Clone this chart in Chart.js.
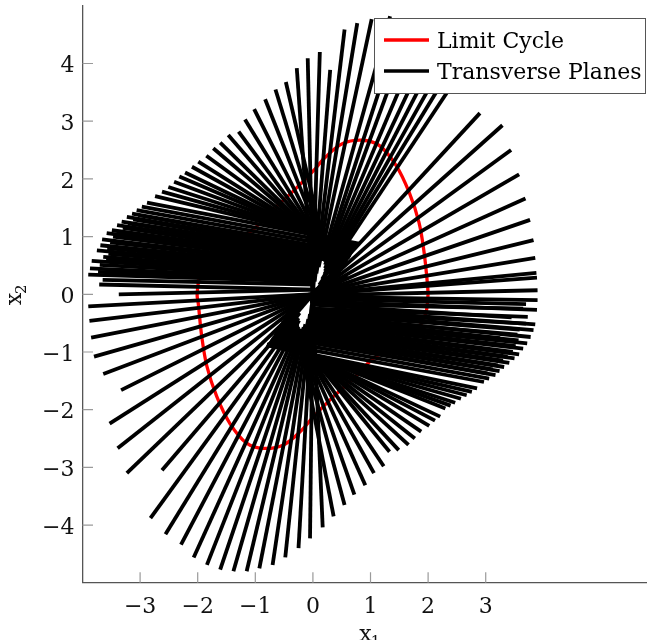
<!DOCTYPE html>
<html>
<head>
<meta charset="utf-8">
<script src="https://cdn.jsdelivr.net/npm/chart.js@4.4.1/dist/chart.umd.min.js"></script>
<style>
  html, body { margin: 0; padding: 0; background: #fff; overflow: hidden; }
  #chart { display: block; }
</style>
</head>
<body>
<canvas id="chart" width="647" height="640"></canvas>
<script>
// limit cycle, clockwise from the right turning point
const cycleX = [2.00, 1.96, 1.82, 1.58, 1.32, 1.05, 0.70, 0.36, 0.01, -0.22, -0.51, -0.86, -1.15, -1.44, -1.67, -1.84, -1.93, -1.99, -2.01,
  -1.96, -1.82, -1.58, -1.32, -1.05, -0.70, -0.36, -0.01, 0.22, 0.51, 0.86, 1.15, 1.44, 1.67, 1.84, 1.93, 1.99, 2.00];
const cycleY = [0.00, -0.33, -0.60, -0.80, -0.96, -1.11, -1.46, -1.77, -2.12, -2.38, -2.61, -2.67, -2.58, -2.24, -1.77, -1.25, -0.73, -0.16, 0.00,
  0.33, 0.60, 0.80, 0.96, 1.11, 1.46, 1.77, 2.12, 2.38, 2.61, 2.67, 2.58, 2.24, 1.77, 1.25, 0.73, 0.16, 0.00];

// transverse planes: outer end (tip) and inner end (base) of each segment
const planeTipX = [3.90, 3.90, 3.89, 3.88, 3.86, 3.83, 3.77, 3.69, 3.58, 3.44, 3.29, 2.90, 2.55, 2.45, 2.36, 2.23, 2.09, 1.93, 1.73, 1.55,
  1.34, 1.02, 0.77, 0.55, 0.30, 0.12, -0.09, -0.28, -0.47, -0.65, -0.83, -1.02, -1.18, -1.29, -1.47, -1.61, -1.73, -1.85, -1.99, -2.10,
  -2.22, -2.32, -2.41, -2.51, -2.62, -2.74, -2.88, -2.97, -3.06, -3.14, -3.23, -3.32, -3.40, -3.49, -3.58, -3.66, -3.69, -3.75, -3.64, -3.84,
  -3.87, -3.90, -3.71, -3.37, -3.90, -3.88, -3.85, -3.80, -3.64, -3.33, -3.53, -3.39, -3.23, -2.62, -2.82, -2.56, -2.29, -2.07, -1.84, -1.61,
  -1.38, -1.15, -0.93, -0.70, -0.48, -0.25, -0.05, 0.17, 0.36, 0.55, 0.72, 0.91, 1.06, 1.23, 1.33, 1.49, 1.66, 1.77, 1.88, 2.02,
  2.12, 2.21, 2.30, 2.39, 2.47, 2.57, 2.67, 2.76, 2.85, 2.97, 3.06, 3.17, 3.24, 3.32, 3.41, 3.50, 3.58, 3.65, 3.72, 3.25,
  3.78, 3.83, 3.86, 3.45, 3.89];
const planeTipY = [-0.10, 0.07, 0.29, 0.37, 0.63, 0.94, 1.29, 1.66, 2.08, 2.50, 2.93, 3.14, 3.83, 4.01, 4.18, 4.31, 4.43, 4.56, 4.69, 4.76,
  4.82, 4.77, 4.70, 4.59, 3.89, 4.20, 4.09, 3.92, 3.68, 3.55, 3.38, 3.21, 3.03, 2.82, 2.76, 2.63, 2.53, 2.40, 2.30, 2.21,
  2.11, 2.04, 1.95, 1.86, 1.78, 1.70, 1.59, 1.52, 1.46, 1.40, 1.34, 1.26, 1.20, 1.11, 1.06, 0.95, 0.85, 0.76, 0.65, 0.58,
  0.45, 0.34, 0.17, 0.00, -0.21, -0.46, -0.75, -1.08, -1.38, -1.66, -2.24, -2.67, -3.10, -3.05, -3.88, -4.16, -4.34, -4.56, -4.69, -4.77,
  -4.80, -4.80, -4.75, -4.69, -4.56, -4.40, -4.23, -4.04, -3.85, -3.65, -3.47, -3.31, -3.10, -2.98, -2.73, -2.70, -2.61, -2.50, -2.38, -2.28,
  -2.19, -2.12, -1.98, -1.93, -1.88, -1.81, -1.75, -1.69, -1.63, -1.52, -1.46, -1.40, -1.33, -1.26, -1.19, -1.11, -1.04, -0.94, -0.85, -0.76,
  -0.74, -0.62, -0.52, -0.40, -0.27];
const planeBaseX = [-0.10, -0.50, -0.50, -0.50, -0.48, -0.45, -0.40, -0.32, -0.23, -0.12, -0.01, -0.09, 0.11, 0.16, 0.20, 0.21, 0.21, 0.21, 0.21, 0.19,
  0.16, 0.10, 0.06, 0.03, -0.04, -0.01, 0.01, 0.03, 0.35, 0.38, 0.41, 0.44, 0.47, 0.50, 0.53, 0.56, 0.59, 0.62, 0.65, 0.67,
  0.69, 0.71, 0.73, 0.75, 0.77, 0.79, 0.80, 0.70, 0.60, 0.50, 0.40, 0.30, 0.20, 0.12, 0.06, 0.03, 0.01, 0.00, 0.02, 0.00,
  0.00, 0.00, 0.05, 0.10, 0.49, 0.49, 0.47, 0.43, 0.48, 0.61, 0.19, 0.06, -0.06, 0.25, -0.23, -0.25, -0.24, -0.25, -0.23, -0.20,
  -0.16, -0.13, -0.08, -0.05, -0.02, 0.00, 0.00, -0.02, -0.35, -0.38, -0.41, -0.44, -0.47, -0.50, -0.53, -0.56, -0.59, -0.62, -0.65, -0.67,
  -0.69, -0.71, -0.73, -0.75, -0.77, -0.79, -0.80, -0.80, -0.80, -0.70, -0.60, -0.50, -0.40, -0.30, -0.20, -0.12, -0.06, -0.03, -0.01, -0.02,
  0.00, 0.00, 0.00, -0.02, -0.05];
const planeBaseY = [-0.04, -0.03, -0.04, -0.05, -0.08, -0.11, -0.14, -0.14, -0.13, -0.09, -0.01, -0.09, 0.16, 0.26, 0.35, 0.40, 0.45, 0.51, 0.56, 0.57,
  0.58, 0.47, 0.36, 0.22, -0.50, -0.20, -0.31, -0.47, 0.15, 0.20, 0.25, 0.30, 0.35, 0.40, 0.45, 0.50, 0.55, 0.60, 0.64, 0.68,
  0.72, 0.75, 0.78, 0.81, 0.84, 0.86, 0.88, 0.84, 0.80, 0.76, 0.72, 0.70, 0.66, 0.62, 0.57, 0.52, 0.47, 0.42, 0.36, 0.32,
  0.27, 0.22, 0.08, 0.08, 0.03, 0.06, 0.09, 0.12, 0.18, 0.30, 0.12, 0.05, -0.06, 0.29, -0.32, -0.41, -0.45, -0.56, -0.60, -0.60,
  -0.57, -0.52, -0.43, -0.34, -0.19, -0.01, 0.17, 0.36, -0.15, -0.20, -0.25, -0.30, -0.35, -0.40, -0.45, -0.50, -0.55, -0.60, -0.64, -0.68,
  -0.72, -0.75, -0.78, -0.81, -0.84, -0.86, -0.87, -0.88, -0.88, -0.84, -0.80, -0.76, -0.72, -0.70, -0.66, -0.62, -0.57, -0.52, -0.47, -0.40,
  -0.36, -0.30, -0.25, -0.18, -0.12];

// planes buried inside the two solid bands (tips hidden by their neighbours)
const bandTipX = [-3.03, -3.12, -3.21, -3.30, -3.38, -3.47, -3.52, -3.57, -3.55, -3.59, -3.70, -3.73, -3.65,
  3.03, 3.12, 3.21, 3.30, 3.38, 3.47, 3.52, 3.57, 3.55, 3.59, 3.70, 3.73, 3.65, 3.70];
const bandTipY = [1.37, 1.30, 1.23, 1.15, 1.08, 1.00, 0.90, 0.80, 0.70, 0.61, 0.51, 0.39, 0.25,
  -1.37, -1.30, -1.23, -1.15, -1.08, -1.00, -0.90, -0.80, -0.70, -0.61, -0.51, -0.39, -0.25, -0.17];
const bandBaseX = [0.45, 0.35, 0.25, 0.16, 0.09, 0.05, 0.02, 0.01, 0.01, 0.01, 0.00, 0.00, 0.02,
  -0.45, -0.35, -0.25, -0.16, -0.09, -0.05, -0.02, -0.01, -0.01, -0.01, 0.00, 0.00, -0.02, 0.00];
const bandBaseY = [0.74, 0.71, 0.68, 0.64, 0.60, 0.55, 0.50, 0.45, 0.39, 0.34, 0.30, 0.25, 0.17,
  -0.74, -0.71, -0.68, -0.64, -0.60, -0.55, -0.50, -0.45, -0.39, -0.34, -0.30, -0.25, -0.17, -0.08];

const xTicks = [-3, -2, -1, 0, 1, 2, 3];
const yTicks = [-4, -3, -2, -1, 0, 1, 2, 3, 4];

const serif = '"DejaVu Serif", "Liberation Serif", serif';

// red limit cycle (drawn underneath the planes)
const cycleSet = {
  label: 'Limit Cycle',
  data: cycleX.map((x, i) => ({ x, y: cycleY[i] })),
  showLine: true,
  borderColor: '#ff0000',
  borderWidth: 3.3,
  pointRadius: 0,
  tension: 0.35,
  order: 1,
};

// one dataset per transverse plane
const planeStyle = { showLine: true, borderColor: '#000000', borderWidth: 3.8, pointRadius: 0, order: 0 };
const planeSets = planeTipX.map((tx, i) => ({
  ...planeStyle,
  label: i === 0 ? 'Transverse Planes' : '',
  data: [{ x: tx, y: planeTipY[i] }, { x: planeBaseX[i], y: planeBaseY[i] }],
}));
const bandSets = bandTipX.map((tx, i) => ({
  ...planeStyle,
  label: '',
  data: [{ x: tx, y: bandTipY[i] }, { x: bandBaseX[i], y: bandBaseY[i] }],
}));

// short inward tick marks, like the original axis
const innerTicks = {
  id: 'innerTicks',
  beforeDatasetsDraw(chart) {
    const { ctx, chartArea: a, scales: { x, y } } = chart;
    ctx.save();
    ctx.strokeStyle = '#9a9a9a';
    ctx.lineWidth = 1.2;
    ctx.beginPath();
    xTicks.forEach(v => {
      const px = x.getPixelForValue(v);
      ctx.moveTo(px, a.bottom);
      ctx.lineTo(px, a.bottom - 10.5);
    });
    yTicks.forEach(v => {
      const py = y.getPixelForValue(v);
      ctx.moveTo(a.left, py);
      ctx.lineTo(a.left + 10.5, py);
    });
    ctx.stroke();
    ctx.restore();
  }
};

// axis titles with a real lowered subscript
function subLabel(ctx, main, sub) {
  ctx.font = '22px ' + serif;
  ctx.fillText(main, 0, 0);
  const w = ctx.measureText(main).width;
  ctx.font = '15px ' + serif;
  ctx.fillText(sub, w - 1, 5);
}

const axisTitles = {
  id: 'axisTitles',
  afterDraw(chart) {
    const { ctx, chartArea: a } = chart;
    ctx.save();
    ctx.fillStyle = '#111';
    ctx.textBaseline = 'alphabetic';
    ctx.textAlign = 'left';
    ctx.save();
    ctx.translate((a.left + a.right) / 2 - 5.5, 640.5);
    subLabel(ctx, 'x', '1');
    ctx.restore();
    ctx.save();
    ctx.translate(21, (a.top + a.bottom) / 2 + 11);
    ctx.rotate(-Math.PI / 2);
    subLabel(ctx, 'x', '2');
    ctx.restore();
    ctx.restore();
  }
};

// boxed legend in the top right corner
const legendBox = {
  id: 'legendBox',
  afterDraw(chart) {
    const { ctx } = chart;
    const items = chart.data.datasets.filter(d => d.label);
    ctx.save();
    ctx.fillStyle = '#fff';
    ctx.fillRect(374.5, 18.5, 271, 75);
    ctx.strokeStyle = '#555';
    ctx.lineWidth = 1;
    ctx.strokeRect(374.5, 18.5, 271, 75);
    items.forEach((d, i) => {
      const ly = 40 + i * 31;
      ctx.strokeStyle = d.borderColor;
      ctx.lineWidth = 3.5;
      ctx.beginPath();
      ctx.moveTo(384, ly);
      ctx.lineTo(429, ly);
      ctx.stroke();
      ctx.fillStyle = '#000';
      ctx.font = '22px ' + serif;
      ctx.textBaseline = 'alphabetic';
      ctx.fillText(d.label, 437, ly + 8);
    });
    ctx.restore();
  }
};

const minus = v => (v < 0 ? '\u2212' + Math.abs(v) : String(v));

new Chart(document.getElementById('chart'), {
  type: 'scatter',
  data: { datasets: [cycleSet, ...planeSets, ...bandSets] },
  options: {
    responsive: false,
    animation: false,
    devicePixelRatio: 1,
    layout: { padding: { top: 5.8, right: 0, bottom: 0, left: 0 } },
    plugins: { legend: { display: false }, tooltip: { enabled: false } },
    scales: {
      x: {
        type: 'linear',
        min: -4,
        max: 5.8,
        grid: { display: false, drawTicks: false },
        border: { display: true, color: '#555', width: 1.3 },
        afterBuildTicks: s => { s.ticks = xTicks.map(v => ({ value: v })); },
        afterFit: s => { s.height = 57.2; s.paddingLeft = 0; s.paddingRight = 0; },
        ticks: { padding: 11, color: '#111', font: { family: serif, size: 22 }, callback: minus, maxRotation: 0 },
        title: { display: false },
      },
      y: {
        type: 'linear',
        min: -5,
        max: 5,
        grid: { display: false, drawTicks: false },
        border: { display: true, color: '#555', width: 1.3 },
        afterBuildTicks: s => { s.ticks = yTicks.map(v => ({ value: v })); },
        afterFit: s => { s.width = 82.5; s.paddingTop = 0; s.paddingBottom = 0; },
        ticks: { padding: 8, labelOffset: 3, color: '#111', font: { family: serif, size: 22 }, callback: minus },
        title: { display: false },
      },
    },
  },
  plugins: [innerTicks, axisTitles, legendBox],
});
</script>
</body>
</html>
